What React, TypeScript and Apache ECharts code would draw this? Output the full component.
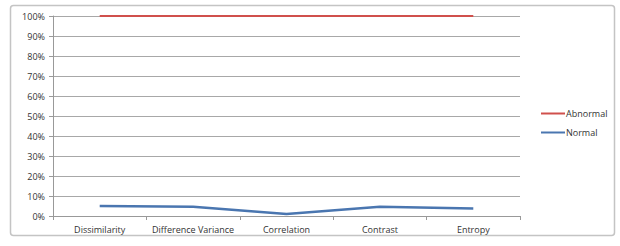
import React, { useEffect, useRef } from "react";
import * as echarts from "echarts";

const categories = ["Dissimilarity", "Difference Variance", "Correlation", "Contrast", "Entropy"];
const abnormal = [100, 100, 100, 100, 100];
const normal = [5, 4.6, 1, 4.6, 3.7];
const yTicks = [0, 10, 20, 30, 40, 50, 60, 70, 80, 90, 100];

export default function App() {
  const ref = useRef<HTMLDivElement>(null);
  useEffect(() => {
    document.body.style.margin = "0";
    const chart = echarts.init(ref.current!, undefined, { renderer: "svg" });
    chart.setOption({
      animation: false,
      backgroundColor: "#ffffff",
      textStyle: { fontFamily: "Open Sans" },
      graphic: [
        {
          type: "rect",
          shape: { x: 10.5, y: 5.5, width: 604, height: 230, r: 3 },
          style: { fill: "none", stroke: "#c4c4c4", lineWidth: 1.5 },
          silent: true,
        },
      ],
      grid: { left: 53, right: 100, top: 16, bottom: 30 },
      legend: {
        orient: "vertical",
        left: 536,
        top: 104,
        itemGap: 10,
        itemWidth: 24,
        itemHeight: 2,
        icon: "rect",
        textStyle: { fontSize: 9, color: "#333", padding: [0, 0, 0, -4] },
        data: [
          { name: "Abnormal", itemStyle: { color: "#d0504c" } },
          { name: "Normal", itemStyle: { color: "#4a76b0" } },
        ],
      },
      xAxis: {
        type: "category",
        data: categories,
        boundaryGap: true,
        axisLine: { lineStyle: { color: "#999" } },
        axisTick: { show: true, length: 4, lineStyle: { color: "#999" } },
        axisLabel: { fontSize: 9, color: "#333", margin: 9, interval: 0 },
      },
      yAxis: {
        type: "value",
        min: 0,
        max: 100,
        interval: 10,
        axisLine: { show: true, lineStyle: { color: "#999" } },
        axisTick: { show: true, length: 4, lineStyle: { color: "#999" } },
        axisLabel: {
          fontSize: 9,
          color: "#333",
          margin: 8,
          formatter: (v: number) => (yTicks.includes(v) ? v + "%" : ""),
        },
        splitLine: { lineStyle: { color: "#a8a8a8", width: 1 } },
      },
      series: [
        {
          name: "Abnormal",
          type: "line",
          data: abnormal,
          symbol: "none",
          lineStyle: { color: "#d0504c", width: 2 },
          itemStyle: { color: "#d0504c" },
          z: 3,
        },
        {
          name: "Normal",
          type: "line",
          data: normal,
          symbol: "none",
          lineStyle: { color: "#4a76b0", width: 2.5 },
          itemStyle: { color: "#4a76b0" },
          z: 3,
        },
      ],
    });
    return () => chart.dispose();
  }, []);
  return <div ref={ref} style={{ width: 620, height: 246 }} />;
}
